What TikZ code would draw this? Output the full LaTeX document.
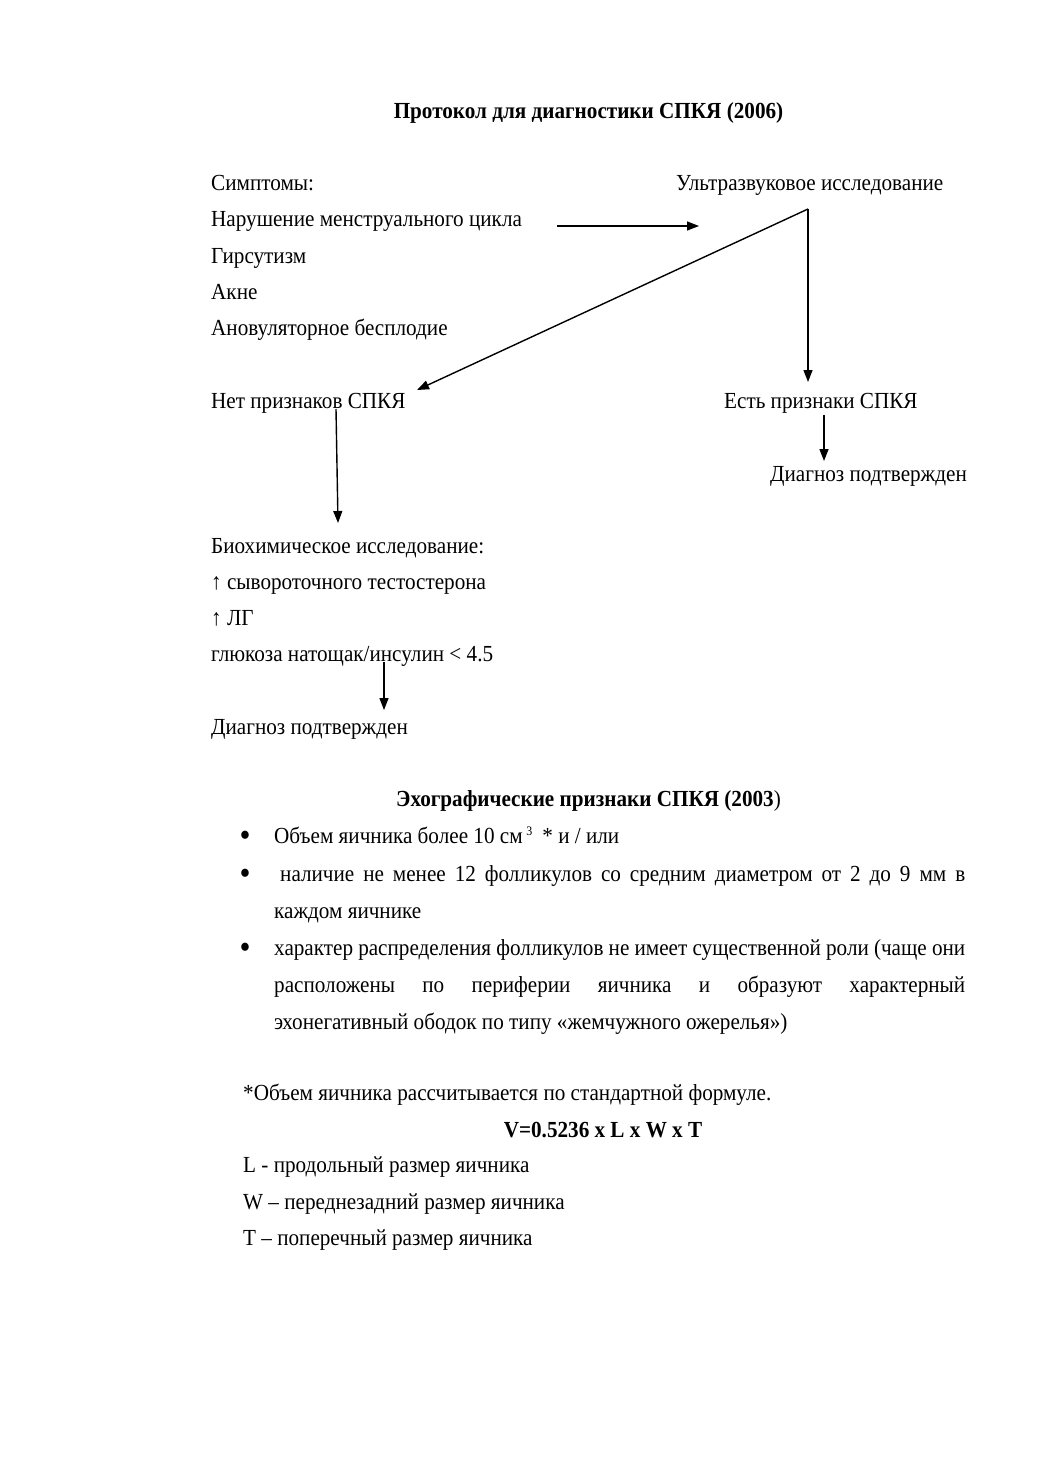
\documentclass[tikz,border=0pt]{standalone}
\usepackage{fontspec}
\setmainfont{Liberation Serif}[FakeStretch=0.92]
\usetikzlibrary{arrows.meta}
\tikzset{
  txt/.style={anchor=base west, inner sep=0pt, font=\fontsize{23}{27}\selectfont},
  ctr/.style={anchor=base, inner sep=0pt, font=\fontsize{23}{27}\selectfont\bfseries},
  bul/.style={anchor=base, inner sep=0pt, font=\fontsize{34}{36}\selectfont},
  arr/.style={-{Triangle[length=12pt,width=9pt]}, line width=1.4pt},
}
\begin{document}
\begin{tikzpicture}[x=1pt,y=-1pt]
\useasboundingbox[fill=white] (0,0) rectangle (1039,1471);
% title
\node[ctr] (title) at (588.5,119) {Протокол для диагностики СПКЯ (2006)};
% symptoms
\node[txt] (sym) at (211,191) {Симптомы:};
\node[txt] (nar) at (211,227) {Нарушение менструального цикла};
\node[txt] (gir) at (211,263) {Гирсутизм};
\node[txt] (akne) at (211,299) {Акне};
\node[txt] (anov) at (211,335) {Ановуляторное бесплодие};
\node[txt] (usi) at (676,191) {Ультразвуковое исследование};
\node[txt] (net) at (211,408) {Нет признаков СПКЯ};
\node[txt] (est) at (724,408) {Есть признаки СПКЯ};
\node[txt] (diag1) at (770,481) {Диагноз подтвержден};
\node[txt] (bio) at (211,553) {Биохимическое исследование:};
\node[txt] (test) at (211,589) {↑ сывороточного тестостерона};
\node[txt] (lg) at (211,625) {↑ ЛГ};
\node[txt] (glu) at (211,661) {глюкоза натощак/инсулин < 4.5};
\node[txt] (diag2) at (211,734) {Диагноз подтвержден};
% connectors
\coordinate (a1s) at (557,226);
\coordinate (a1e) at (699,226);
\coordinate (apex) at (808,209);
\coordinate (tipnet) at (417,390);
\coordinate (tipest) at (808,382);
\coordinate (n1) at (336,409);
\coordinate (n2) at (338,523);
\coordinate (e1) at (824,415);
\coordinate (e2) at (824,461);
\coordinate (g1) at (384,662);
\coordinate (g2) at (384,710);
\draw[arr] (a1s) -- (a1e);
\draw[arr] (apex) -- (tipnet);
\draw[arr] (apex) -- (tipest);
\draw[arr] (n1) -- (n2);
\draw[arr] (e1) -- (e2);
\draw[arr] (g1) -- (g2);
% echo signs
\node[ctr] (echo) at (588.5,806) {Эхографические признаки СПКЯ (2003\textmd{)}};
\node[bul] (b1) at (245,846) {•};
\node[txt] (l1) at (274,843) {Объем яичника более 10 см\,\raisebox{0.75ex}{\fontsize{13}{15}\selectfont 3}\hspace{10pt}* и / или};
\node[bul] (b2) at (245,884) {•};
\node[txt] (l2) at (280,881) {\makebox[685pt][s]{наличие не менее 12 фолликулов со средним диаметром от 2 до 9 мм в}};
\node[txt] (l3) at (274,918) {каждом яичнике};
\node[bul] (b3) at (245,958) {•};
\node[txt] (l4) at (274,955) {\makebox[691pt][s]{характер распределения фолликулов не имеет существенной роли (чаще они}};
\node[txt] (l5) at (274,992) {\makebox[691pt][s]{расположены по периферии яичника и образуют характерный}};
\node[txt] (l6) at (274,1029) {эхонегативный ободок по типу «жемчужного ожерелья»)};
% formula
\node[txt] (vol) at (243,1100) {*Объем яичника рассчитывается по стандартной формуле.};
\node[ctr] (form) at (603,1137) {V=0.5236 x L x W x T};
\node[txt] (L) at (243,1172) {L - продольный размер яичника};
\node[txt] (W) at (243,1209) {W – переднезадний размер яичника};
\node[txt] (T) at (243,1245) {T – поперечный размер яичника};
\end{tikzpicture}
\end{document}
